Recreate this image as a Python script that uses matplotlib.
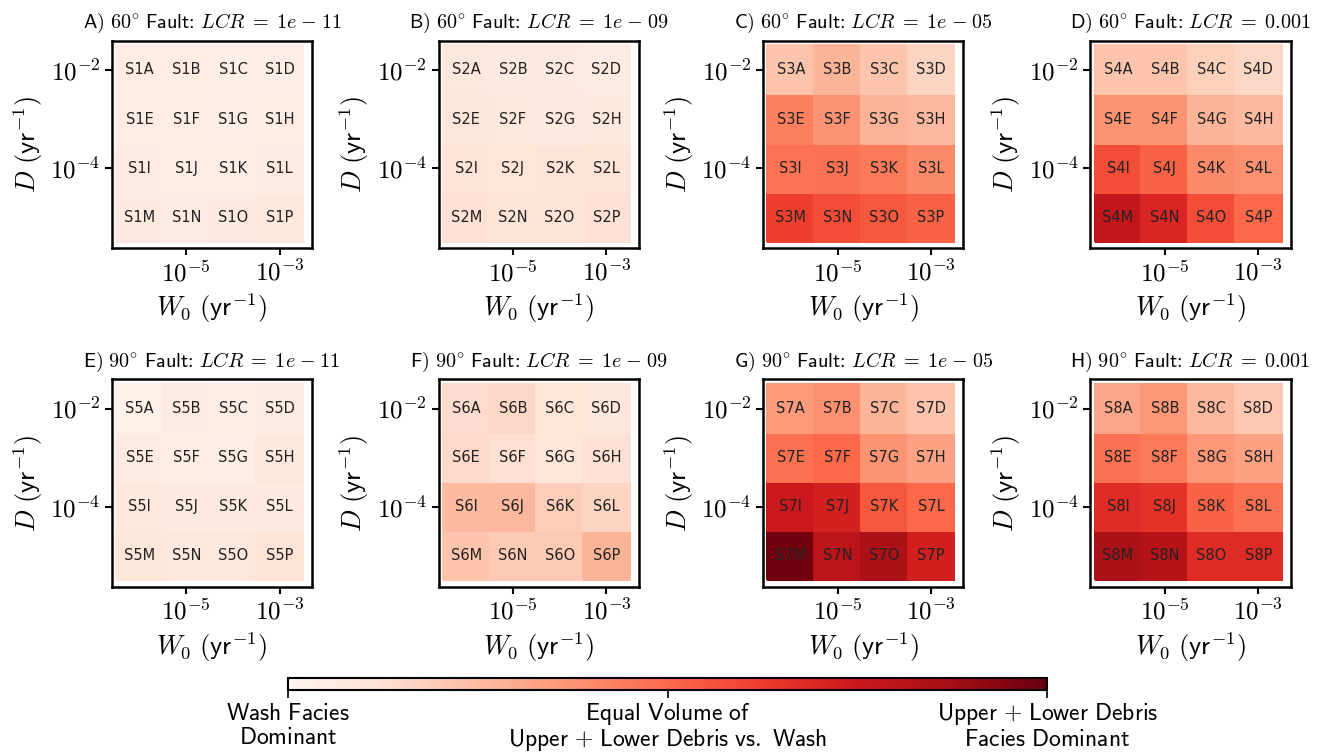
import numpy as np
import matplotlib
matplotlib.use("Agg")
import matplotlib.pyplot as plt

plt.rcParams['mathtext.fontset'] = 'cm'
plt.rcParams['font.family'] = 'DejaVu Sans'

# panel metadata
panel_letters = ['A', 'B', 'C', 'D', 'E', 'F', 'G', 'H']
fault_angles = [60, 60, 60, 60, 90, 90, 90, 90]
lcr_labels = ['1e-11', '1e-09', '1e-05', '0.001', '1e-11', '1e-09', '1e-05', '0.001']
cell_letters = list('ABCDEFGHIJKLMNOP')

# grid axes (cell centres)
w0_vals = [1e-6, 1e-5, 1e-4, 1e-3]
d_vals = [1e-2, 1e-3, 1e-4, 1e-5]
x_ticks = [1e-5, 1e-3]
x_ticklabels = [r'$10^{-5}$', r'$10^{-3}$']
y_ticks = [1e-2, 1e-4]
y_ticklabels = [r'$10^{-2}$', r'$10^{-4}$']

# relative facies dominance (0 = wash, 0.5 = equal, 1 = debris), rows top->bottom
s1 = [0.05, 0.05, 0.04, 0.04,
      0.05, 0.05, 0.04, 0.05,
      0.06, 0.05, 0.05, 0.06,
      0.07, 0.06, 0.07, 0.08]
s2 = [0.08, 0.07, 0.07, 0.06,
      0.09, 0.08, 0.07, 0.08,
      0.11, 0.10, 0.11, 0.11,
      0.12, 0.11, 0.11, 0.12]
s3 = [0.22, 0.27, 0.22, 0.17,
      0.43, 0.37, 0.28, 0.26,
      0.47, 0.48, 0.45, 0.40,
      0.62, 0.58, 0.55, 0.52]
s4 = [0.22, 0.22, 0.18, 0.16,
      0.37, 0.37, 0.27, 0.25,
      0.58, 0.52, 0.40, 0.38,
      0.78, 0.70, 0.58, 0.50]
s5 = [0.03, 0.06, 0.05, 0.06,
      0.06, 0.05, 0.04, 0.08,
      0.08, 0.07, 0.07, 0.07,
      0.09, 0.08, 0.08, 0.11]
s6 = [0.14, 0.16, 0.10, 0.09,
      0.15, 0.13, 0.10, 0.12,
      0.25, 0.26, 0.19, 0.17,
      0.22, 0.20, 0.20, 0.27]
s7 = [0.35, 0.38, 0.27, 0.22,
      0.48, 0.50, 0.37, 0.33,
      0.75, 0.72, 0.55, 0.50,
      0.98, 0.80, 0.85, 0.73]
s8 = [0.32, 0.36, 0.26, 0.21,
      0.48, 0.45, 0.36, 0.33,
      0.68, 0.66, 0.52, 0.48,
      0.85, 0.82, 0.68, 0.68]
all_vals = [s1, s2, s3, s4, s5, s6, s7, s8]

cbar_labels = ['Wash Facies\nDominant',
               'Equal Volume of\nUpper + Lower Debris vs. Wash',
               'Upper + Lower Debris\nFacies Dominant']


def sf(text):
    # sans-serif mathtext, one $...$ per line
    lines = text.split('\n')
    return '\n'.join(r'$\mathsf{%s}$' % l.replace(' ', r'\ ').replace('+', '{+}')
                     for l in lines)


fig = plt.figure(figsize=(13.25, 7.55), dpi=100)

lefts = [0.0845, 0.331, 0.576, 0.823]
bottoms = [0.671, 0.2225]
aw, ah = 0.151, 0.275

# cell edges in log space
x_log = np.log10(w0_vals)
y_log = np.log10(d_vals)[::-1]  # ascending
x_edges = 10 ** np.concatenate([x_log - 0.5, [x_log[-1] + 0.5]])
y_edges = 10 ** np.concatenate([y_log - 0.5, [y_log[-1] + 0.5]])

mesh = None
for i in range(8):
    r, c = divmod(i, 4)
    ax = fig.add_axes([lefts[c], bottoms[r], aw, ah])
    z = np.array(all_vals[i]).reshape(4, 4)[::-1]  # bottom row first
    mesh = ax.pcolormesh(x_edges, y_edges, z, cmap='Reds', vmin=0, vmax=1,
                         shading='flat', edgecolors='face', linewidth=0.3)
    ax.set_xscale('log')
    ax.set_yscale('log')
    ax.set_xlim(10 ** -6.59, 10 ** -2.31)
    ax.set_ylim(10 ** -5.635, 10 ** -1.406)
    ax.set_xticks(x_ticks)
    ax.set_xticklabels(x_ticklabels)
    ax.set_yticks(y_ticks)
    ax.set_yticklabels(y_ticklabels)
    ax.minorticks_off()
    ax.tick_params(labelsize=18, length=5, width=1.5)
    for sp in ax.spines.values():
        sp.set_linewidth(1.8)
    ax.set_xlabel(r'$W_0\ (\mathsf{yr}^{-1})$', fontsize=19)
    ax.set_ylabel(r'$D\ (\mathsf{yr}^{-1})$', fontsize=19)
    lcr = lcr_labels[i].replace('-', r'\;{-}\;')
    ax.set_title(r'$\mathsf{%s)}\ %d^{\circ}\ \mathsf{Fault}{\colon}\ LCR\;{=}\;%s$'
                 % (panel_letters[i], fault_angles[i], lcr),
                 fontsize=14.5, pad=9)
    # cell labels
    for k, letter in enumerate(cell_letters):
        rr, cc = divmod(k, 4)
        ax.text(w0_vals[cc], d_vals[rr], 'S%d%s' % (i + 1, letter),
                ha='center', va='center', fontsize=10.5, color='#222222')

cax = fig.add_axes([0.2174, 0.086, 0.573, 0.016])
cb = fig.colorbar(mesh, cax=cax, orientation='horizontal', ticks=[0, 0.5, 1])
cb.set_ticklabels([sf(lbl) for lbl in cbar_labels])
cb.ax.tick_params(labelsize=17, length=6, width=1.2, pad=2)
for t in cb.ax.get_xticklabels():
    t.set_linespacing(1.0)
cb.outline.set_linewidth(1.5)

fig.savefig('out.png', dpi=100)
